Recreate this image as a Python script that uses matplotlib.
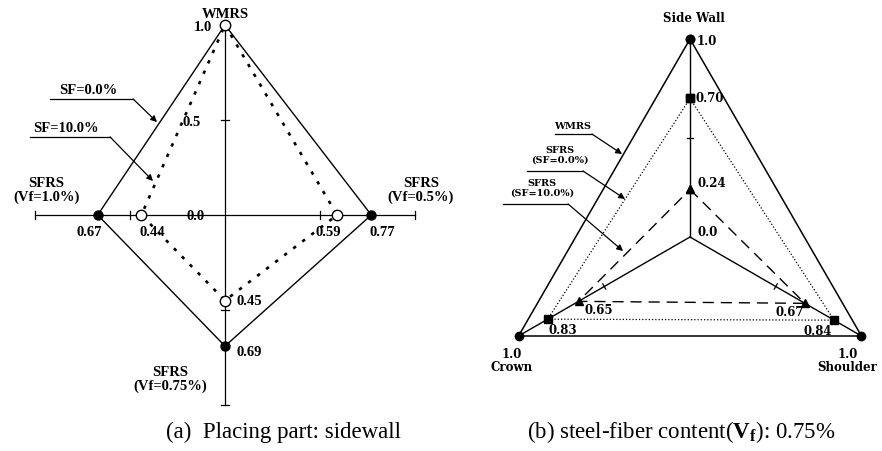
import numpy as np
import matplotlib.pyplot as plt

plt.rcParams['mathtext.fontset'] = 'custom'
plt.rcParams['mathtext.rm'] = 'Liberation Serif'
plt.rcParams['mathtext.bf'] = 'Liberation Serif:bold'

# (a) placing part: sidewall -- four axes, top / right / bottom / left
axes_a = ['WMRS', 'SFRS\n(Vf=0.5%)', 'SFRS\n(Vf=0.75%)', 'SFRS\n(Vf=1.0%)']
angles_a = [90, 0, 270, 180]
sf00_a = [1.0, 0.77, 0.69, 0.67]
sf10_a = [1.0, 0.59, 0.45, 0.44]

# (b) steel-fiber content 0.75% -- three placing parts
parts_b = ['Side Wall', 'Shoulder', 'Crown']
angles_b = [90, -30, 210]
wmrs_b = [1.0, 1.0, 1.0]
sf00_b = [0.70, 0.84, 0.83]
sf10_b = [0.24, 0.67, 0.65]


def polar_xy(vals, angs, close=True):
    t = np.radians(angs)
    x = np.array(vals) * np.cos(t)
    y = np.array(vals) * np.sin(t)
    if close:
        x = np.append(x, x[0])
        y = np.append(y, y[0])
    return x, y


W, H = 882, 452
fig = plt.figure(figsize=(W / 100, H / 100), dpi=100)

# ---------------- panel (a) ----------------
sa, cxa, cya = 190.0, 225.0, 216.0
axa = fig.add_axes([0, 0, 441 / W, 1])
axa.set_xlim(-cxa / sa, (441 - cxa) / sa)
axa.set_ylim((cya - H) / sa, cya / sa)
axa.axis('off')

fa = dict(family='Liberation Serif', weight='bold', fontsize=10.5)

# axis lines with end and mid ticks
axa.plot([-1, 1], [0, 0], color='k', lw=0.9)
axa.plot([0, 0], [-1, 1], color='k', lw=0.9)
tk = 0.022
for p in [-1, -0.5, 0.5, 1]:
    axa.plot([p, p], [-tk, tk], color='k', lw=0.9)
for p in [-1, -0.5, 0.5]:
    axa.plot([-tk, tk], [p, p], color='k', lw=0.9)

x0, y0 = polar_xy(sf00_a, angles_a)
axa.plot(x0, y0, color='k', lw=1.0, marker='o', ms=6.5, mfc='k', zorder=3)
x1, y1 = polar_xy(sf10_a, angles_a)
axa.plot(x1, y1, color='k', lw=1.9, dashes=(1.3, 3.0), zorder=4)
axa.plot(x1[:-1], y1[:-1], ls='none', marker='o', ms=7.5, mfc='white',
         mec='k', mew=1.0, zorder=5)

# value labels (offsets in pixels)
off00 = [None, (11, -17, 'center'), (12, -5, 'left'), (-8, -17, 'center')]
off10 = [None, (-9, -17, 'center'), (12, 0, 'left'), (11, -17, 'center')]
for vals, offs in [(sf00_a, off00), (sf10_a, off10)]:
    xs, ys = polar_xy(vals, angles_a, close=False)
    for i in range(1, 4):
        dx, dy, ha = offs[i]
        axa.annotate(f'{vals[i]:.2f}', (xs[i], ys[i]), xytext=(dx, dy),
                     textcoords='offset pixels', ha=ha, va='center', **fa)

axa.text(-0.068, 0.99, '1.0', ha='right', va='center', **fa)
axa.text(-0.13, 0.49, '0.5', ha='right', va='center', **fa)
axa.text(-0.153, 0.0, '0.0', ha='center', va='center', **fa)

axa.text(0.0, 1.06, axes_a[0], ha='center', va='center', **fa)
axa.text(1.03, 0.135, axes_a[1], ha='center', va='center', linespacing=1.1, **fa)
axa.text(-0.29, -0.86, axes_a[2], ha='center', va='center', linespacing=1.1, **fa)
axa.text(-0.94, 0.135, axes_a[3], ha='center', va='center', linespacing=1.1, **fa)

# leader labels
arrow = dict(arrowstyle='-|>', color='k', lw=0.9, mutation_scale=9,
             shrinkA=0, shrinkB=0)
axa.text(-0.721, 0.663, 'SF=0.0%', ha='center', va='center', **fa)
axa.plot([-0.921, -0.484], [0.611, 0.611], color='k', lw=0.9)
axa.annotate('', xy=(-0.358, 0.489), xytext=(-0.484, 0.611), arrowprops=arrow)
axa.text(-0.837, 0.463, 'SF=10.0%', ha='center', va='center', **fa)
axa.plot([-1.026, -0.605], [0.411, 0.411], color='k', lw=0.9)
axa.annotate('', xy=(-0.379, 0.179), xytext=(-0.605, 0.411), arrowprops=arrow)

# ---------------- panel (b) ----------------
sb, cxb, cyb = 198.0, 690.0, 238.0
axb = fig.add_axes([441 / W, 0, 441 / W, 1])
axb.set_xlim((441 - cxb) / sb, (882 - cxb) / sb)
axb.set_ylim((cyb - H) / sb, cyb / sb)
axb.axis('off')

fb = dict(family='DejaVu Serif', weight='bold', fontsize=8.5)
fs = dict(family='DejaVu Serif', weight='bold', fontsize=7)

# spokes with mid ticks
for a in angles_b:
    t = np.radians(a)
    axb.plot([0, np.cos(t)], [0, np.sin(t)], color='k', lw=1.0)
    px, py = -np.sin(t) * 0.015, np.cos(t) * 0.015
    mx, my = 0.5 * np.cos(t), 0.5 * np.sin(t)
    axb.plot([mx - px, mx + px], [my - py, my + py], color='k', lw=0.9)

xw, yw = polar_xy(wmrs_b, angles_b)
axb.plot(xw, yw, color='k', lw=1.1, marker='o', ms=6, mfc='k', zorder=3)
xs0, ys0 = polar_xy(sf00_b, angles_b)
axb.plot(xs0, ys0, color='k', lw=0.9, ls=(0, (1, 1.6)), marker='s', ms=5.5,
         mfc='k', zorder=3)
xs1, ys1 = polar_xy(sf10_b, angles_b)
axb.plot(xs1, ys1, color='k', lw=1.0, ls=(0, (8, 5)), marker='^', ms=6,
         mfc='k', zorder=3)

offs00_b = [(5, 1, 'left'), (-2, -10, 'right'), (1, -10, 'left')]
offs10_b = [(7, 7, 'left'), (-1, -8, 'right'), (6, -8, 'left')]
for vals, offs in [(sf00_b, offs00_b), (sf10_b, offs10_b)]:
    xs, ys = polar_xy(vals, angles_b, close=False)
    for i in range(3):
        dx, dy, ha = offs[i]
        axb.annotate(f'{vals[i]:.2f}', (xs[i], ys[i]), xytext=(dx, dy),
                     textcoords='offset pixels', ha=ha, va='center', **fb)

xv, yv = polar_xy(wmrs_b, angles_b, close=False)
axb.annotate('1.0', (xv[0], yv[0]), xytext=(7, -2), textcoords='offset pixels',
             ha='left', va='center', **fb)
axb.annotate(parts_b[0], (xv[0], yv[0]), xytext=(4, 21),
             textcoords='offset pixels', ha='center', va='center', **fb)
axb.annotate('1.0\n' + parts_b[1], (xv[1], yv[1]), xytext=(-14, -24),
             textcoords='offset pixels', ha='center', va='center',
             linespacing=1.0, **fb)
axb.annotate('1.0\n' + parts_b[2], (xv[2], yv[2]), xytext=(-7, -24),
             textcoords='offset pixels', ha='center', va='center',
             linespacing=1.0, **fb)
axb.annotate('0.0', (0, 0), xytext=(8, 5), textcoords='offset pixels',
             ha='left', va='center', **fb)

# leader labels
axb.text(-0.591, 0.561, 'WMRS', ha='center', va='center', **fs)
axb.plot([-0.682, -0.495], [0.520, 0.520], color='k', lw=0.9)
axb.annotate('', xy=(-0.343, 0.419), xytext=(-0.495, 0.520), arrowprops=arrow)
axb.text(-0.657, 0.419, 'SFRS\n(SF=0.0%)', ha='center', va='center',
         linespacing=1.15, **fs)
axb.plot([-0.823, -0.540], [0.333, 0.333], color='k', lw=0.9)
axb.annotate('', xy=(-0.328, 0.192), xytext=(-0.540, 0.333), arrowprops=arrow)
axb.text(-0.747, 0.250, 'SFRS\n(SF=10.0%)', ha='center', va='center',
         linespacing=1.15, **fs)
axb.plot([-0.944, -0.616], [0.167, 0.167], color='k', lw=0.9)
axb.annotate('', xy=(-0.338, -0.071), xytext=(-0.616, 0.167), arrowprops=arrow)

# captions
cap = dict(family='Liberation Serif', fontsize=16.5, ha='center', va='center')
fig.text(283 / W, 1 - 432 / H, '(a)  Placing part: sidewall', **cap)
fig.text(681 / W, 1 - 432 / H,
         r'(b) steel-fiber content($\mathbf{V}_\mathbf{f}$): 0.75%', **cap)

fig.savefig('out.png', dpi=100)
